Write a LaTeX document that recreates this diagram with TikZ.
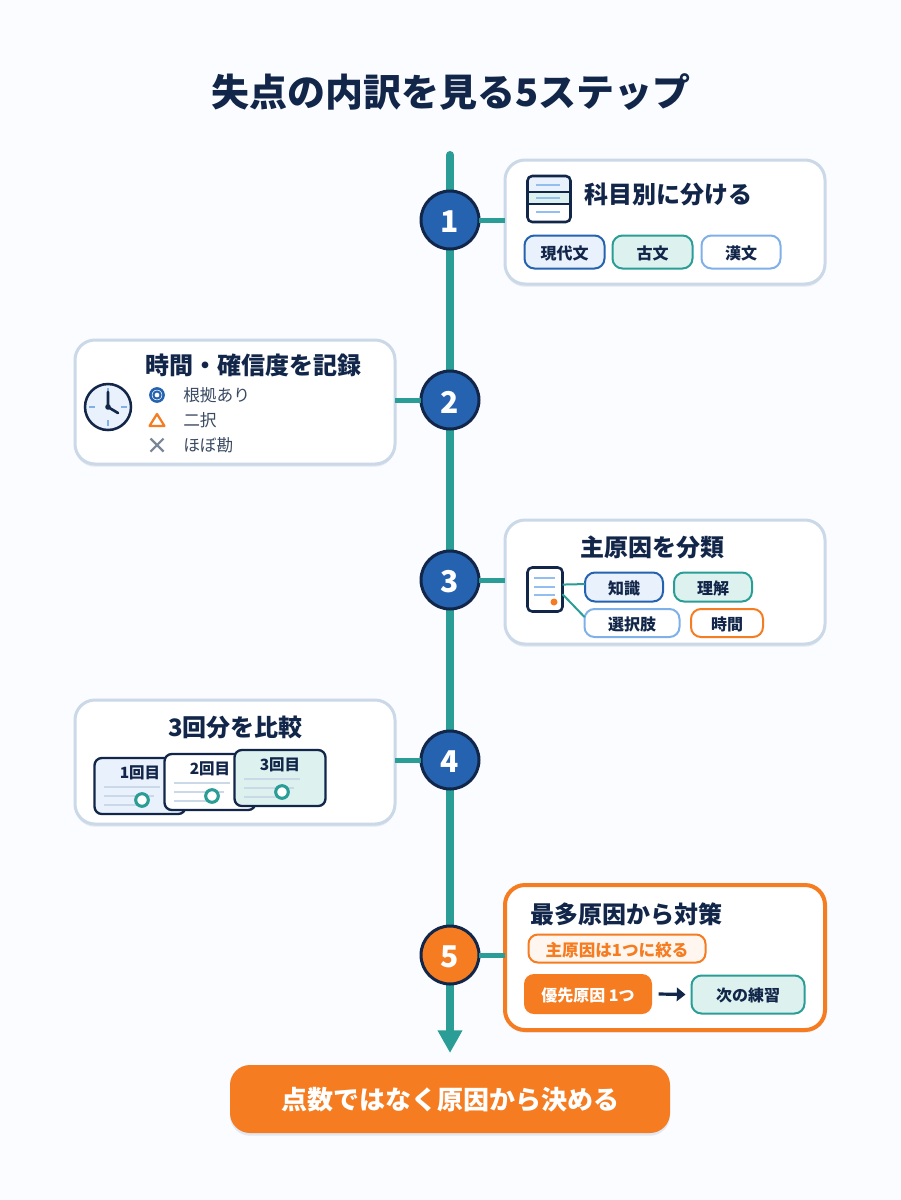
\documentclass[tikz,border=0pt]{standalone}
\usepackage{fontspec}
\setmainfont{Noto Sans CJK JP}
\usetikzlibrary{arrows.meta,shadows}
\definecolor{ink}{HTML}{12264A}
\definecolor{bluec}{HTML}{2563B0}
\definecolor{tealc}{HTML}{2A9D96}
\definecolor{orangec}{HTML}{F57C20}
\definecolor{skyc}{HTML}{7FB0E8}
\definecolor{palesky}{HTML}{93BEF0}
\definecolor{bluefill}{HTML}{E9F1FC}
\definecolor{tealfill}{HTML}{DDF2EF}
\definecolor{orangefill}{HTML}{FFF6EF}
\definecolor{cardline}{HTML}{CBD8E8}
\definecolor{shadowc}{HTML}{E2E8F1}
\definecolor{bgc}{HTML}{FAFCFF}
\definecolor{legendc}{HTML}{3A4A63}
\definecolor{crossc}{HTML}{7A8798}
\newcommand\pxf[1]{\fontsize{\the\dimexpr#1pt*3/4\relax}{\the\dimexpr#1pt*9/10\relax}\selectfont}
\newcommand\lowered[2]{\leavevmode\vphantom{#2}\smash{\raisebox{-#1}{#2}}}
\newcommand\dn[1]{\lowered{0.75pt}{#1}}
\newcommand\dg[1]{\lowered{1.5pt}{#1}}
\tikzset{
  sz/.style 2 args={minimum width=#1*0.75pt,minimum height=#2*0.75pt,inner sep=0pt,outer sep=0pt},
  cardbox/.style={rectangle,rounded corners=15pt,draw=cardline,fill=white,line width=2.25pt,
    general shadow={shadow xshift=0pt,shadow yshift=-2pt,fill=shadowc}},
  stepdot/.style={circle,minimum size=43.5pt,inner sep=0pt,outer sep=0pt,draw=ink,line width=2.25pt,text=white,font=\pxf{30}\bfseries},
  heading/.style={text=ink,font=\pxf{24}\bfseries,inner sep=0pt},
  chip/.style={rectangle,rounded corners=7.5pt,line width=1.5pt,text=ink,font=\pxf{16}\bfseries},
  chipblue/.style={chip,draw=bluec,fill=bluefill},
  chipteal/.style={chip,draw=tealc,fill=tealfill},
  chipsky/.style={chip,draw=skyc,fill=white},
  chiporange/.style={chip,draw=orangec,fill=white},
  link/.style={draw=tealc,line width=3.75pt},
  thinlink/.style={draw=tealc,line width=1.5pt},
  iconbox/.style={rectangle,rounded corners=3.5pt,draw=ink,line width=1.9pt},
  soft/.style={draw=palesky,line width=1.5pt},
  legend/.style={text=legendc,font=\pxf{16.7},anchor=west,inner sep=0pt},
  mini/.style={rectangle,rounded corners=5.5pt,draw=ink,line width=1.75pt},
  minitext/.style={text=ink,font=\pxf{15.5}\bfseries,inner sep=0pt},
  miniline/.style={draw=cardline,line width=1.4pt},
  ring/.style={draw=tealc,fill=white,line width=2.3pt},
}
\begin{document}
\begin{tikzpicture}[x=0.75pt,y=-0.75pt]
\fill[bgc] (0,0) rectangle (900,1200);
\useasboundingbox (0,0) rectangle (900,1200);

\node[text=ink,font=\pxf{38}\bfseries,inner sep=0pt] (title) at (451,92) {失点の内訳を見る5ステップ};

% spine
\coordinate (spineTop) at (450,155);
\coordinate (spineEnd) at (450,1053);
\draw[draw=tealc,line width=6pt,-{Triangle[length=17pt,width=17.5pt,fill=tealc]}] (spineTop) -- (spineEnd);
\fill[tealc] (spineTop) circle (4);

% step dots
\node[stepdot,fill=bluec] (s1) at (450,220) {\dg{1}};
\node[stepdot,fill=bluec] (s2) at (450,400) {\dg{2}};
\node[stepdot,fill=bluec] (s3) at (450,580) {\dg{3}};
\node[stepdot,fill=bluec] (s4) at (450,760) {\dg{4}};
\node[stepdot,fill=orangec] (s5) at (450,955) {\dg{5}};

% cards
\node[cardbox,sz={320}{124}] (c1) at (665,222) {};
\node[cardbox,sz={320}{124}] (c2) at (235,402) {};
\node[cardbox,sz={320}{124}] (c3) at (665,582) {};
\node[cardbox,sz={320}{124}] (c4) at (235,762) {};
\node[cardbox,draw=orangec,line width=3pt,sz={320}{145}] (c5) at (665,957.5) {};

% connectors
\draw[link] (s1.east) -- (s1.east -| c1.west);
\draw[link] (s2.west) -- (s2.west -| c2.east);
\draw[link] (s3.east) -- (s3.east -| c3.west);
\draw[link] (s4.west) -- (s4.west -| c4.east);
\draw[link] (s5.east) -- (s5.east -| c5.west);

% card 1
\fill[bluefill,rounded corners=3.5pt] (528,176) rectangle (570,192);
\fill[tealfill] (528,192) rectangle (570,204);
\node[iconbox,sz={43}{46}] (sheet) at (549,199) {};
\draw[draw=ink,line width=1.9pt] (sheet.west |- 0,192) -- (sheet.east |- 0,192);
\draw[draw=ink,line width=1.9pt] (sheet.west |- 0,204) -- (sheet.east |- 0,204);
\draw[soft] (536,185) -- (560,185);
\draw[soft] (536,198) -- (560,198);
\draw[soft] (536,212) -- (560,212);
\node[heading,anchor=west] (t1) at (584,194) {科目別に分ける};
\node[chipblue,sz={80}{33}] (a1) at (564.5,252) {\dn{現代文}};
\node[chipteal,sz={80}{33}] (a2) at (652.5,252) {\dn{古文}};
\node[chipsky,sz={79}{33}] (a3) at (741,252) {\dn{漢文}};

% card 2
\node[circle,draw=ink,fill=bluefill,line width=1.9pt,minimum size=34.5pt,inner sep=0pt] (clock) at (108,407) {};
\draw[draw=skyc,line width=1.5pt] (108,388) -- (108,394) (108,420) -- (108,426) (89,407) -- (95,407) (121,407) -- (127,407);
\draw[draw=ink,line width=2pt,line cap=round] (108,392) -- (clock.center) -- (118,413);
\fill[ink] (clock.center) circle (2.8);
\node[heading] (t2) at (253.5,365) {時間・確信度を記録};
\draw[draw=bluec,line width=1.9pt] (157,395) circle (6.6);
\draw[draw=bluec,line width=1.5pt] (157,395) circle (3.6);
\draw[draw=orangec,line width=1.7pt,line join=round] (157,414) -- (164.5,426) -- (149.5,426) -- cycle;
\draw[draw=crossc,line width=1.6pt] (150.5,438.5) -- (163.5,451.5) (163.5,438.5) -- (150.5,451.5);
\node[legend] (l1) at (183,395) {根拠あり};
\node[legend] (l2) at (183,420) {二択};
\node[legend] (l3) at (183,445) {ほぼ勘};

% card 3
\node[heading] (t3) at (652.5,547) {主原因を分類};
\node[iconbox,fill=white,sz={35}{44}] (doc) at (545,589.5) {};
\draw[soft] (534,578) -- (555,578);
\draw[soft] (534,587) -- (555,587);
\draw[soft] (534,595) -- (555,595);
\fill[orangec] (554,602) circle (3.5);
\node[chipblue,sz={78}{29}] (k1) at (624,587) {\dn{知識}};
\node[chipteal,sz={78}{29}] (k2) at (713,587) {\dn{理解}};
\node[chipsky,sz={95}{28}] (k3) at (632,623) {\dn{選択肢}};
\node[chiporange,sz={72}{28}] (k4) at (727,623) {\dn{時間}};
\draw[thinlink] ([yshift=3.7pt]doc.east) -- ([yshift=2.2pt]k1.west);
\draw[thinlink] ([yshift=-3.5pt]doc.east) -- ([yshift=4.5pt]k3.west);

% card 4
\node[heading] (t4) at (235.5,727) {3回分を比較};
\node[mini,fill=bluefill,sz={91}{56}] (m1) at (140,786) {};
\node[minitext] (mt1) at (140,772) {\dn{1回目}};
\draw[miniline] (104,787) -- (160,787) (104,796) -- (154,796) (104,805) -- (142,805);
\draw[ring] (142,800) circle (6.3);
\node[mini,fill=white,sz={91}{56}] (m2) at (210,782) {};
\node[minitext] (mt2) at (210,768) {\dn{2回目}};
\draw[miniline] (174,783) -- (230,783) (174,792) -- (224,792) (174,801) -- (212,801);
\draw[ring] (212,796) circle (6.3);
\node[mini,fill=tealfill,sz={91}{56}] (m3) at (280,778) {};
\node[minitext] (mt3) at (280,764) {\dn{3回目}};
\draw[miniline] (244,779) -- (300,779) (244,788) -- (294,788) (244,797) -- (282,797);
\draw[ring] (282,792) circle (6.3);

% card 5
\node[heading] (t5) at (626.5,914) {最多原因から対策};
\node[chip,draw=orangec,fill=orangefill,text=orangec,line width=1.5pt,rounded corners=7pt,sz={177}{28},font=\pxf{16.6}\bfseries] (note) at (617,948.5) {\lowered{1pt}{主原因は1つに絞る}};
\node[rectangle,rounded corners=7.5pt,fill=orangec,text=white,sz={128}{40},font=\pxf{16}\bfseries] (prio) at (588,994) {\dn{優先原因 1つ}};
\node[chipteal,sz={113}{38},font=\pxf{16}\bfseries] (next) at (748,994.5) {\dn{次の練習}};
\draw[draw=ink,line width=2.4pt,-{Triangle[length=6.5pt,width=10pt]}] ([xshift=5pt]prio.east) -- ([xshift=-4.5pt]next.west);

% banner
\node[rectangle,rounded corners=15pt,fill=orangec,text=white,sz={440}{68},font=\pxf{26}\bfseries,
  general shadow={shadow xshift=0pt,shadow yshift=-2pt,fill=shadowc}] (banner) at (450,1099) {\dn{点数ではなく原因から決める}};
\end{tikzpicture}
\end{document}
